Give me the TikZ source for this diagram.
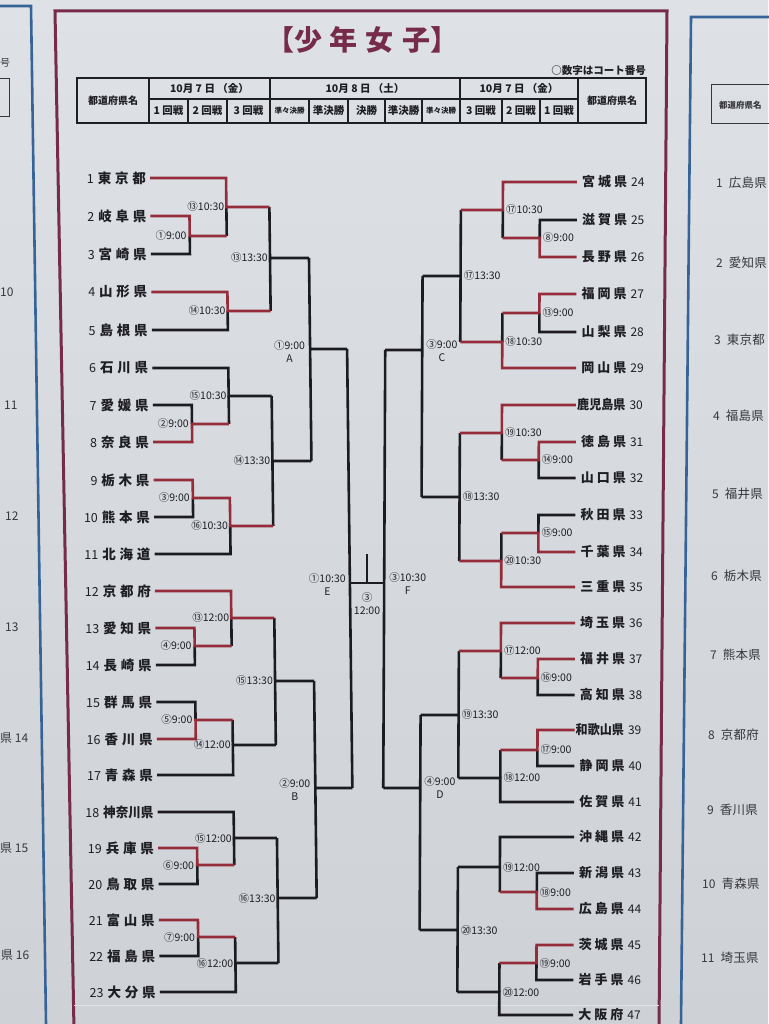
\documentclass[tikz,border=0pt]{standalone}
\usepackage{fontspec}
\setmainfont{Noto Sans CJK JP}
\usetikzlibrary{calc}
\definecolor{bgtop}{RGB}{222,226,231}
\definecolor{bgbot}{RGB}{206,210,215}
\definecolor{redl}{RGB}{148,44,58}
\definecolor{blk}{RGB}{28,28,32}
\definecolor{maroon}{RGB}{118,44,72}
\definecolor{panelblue}{RGB}{55,100,150}
\definecolor{txt}{RGB}{30,30,35}
\definecolor{txtb}{RGB}{55,55,60}
\definecolor{edge}{RGB}{222,225,229}
\newcommand\tfont{\fontsize{10.5}{13}\selectfont}
\newcommand\tnm[3]{\makebox[48pt][s]{#1\hfill#2\hfill#3}}
\newcommand\tnq[1]{\scalebox{0.93}[1]{#1}}
\newcommand\tnr[3]{\makebox[45pt][s]{#1\hfill#2\hfill#3}}
\newcommand\tnp[3]{\makebox[38pt][s]{#1\hfill#2\hfill#3}}
\newcommand\LT[2]{{\fontsize{12.5}{13}\selectfont #1}\hspace{4pt}{\fontsize{13.5}{14}\selectfont\bfseries #2}}
\newcommand\RT[2]{{\fontsize{13}{14}\selectfont\bfseries #1}\hspace{4pt}{\fontsize{12}{13}\selectfont #2}}
\newcommand\PT[2]{{\fontsize{12}{13}\selectfont #1}\hspace{6pt}{\fontsize{12.5}{13}\selectfont #2}}
\begin{document}
\begin{tikzpicture}[x=1pt,y=-1pt,
  bk/.style={draw=blk,line width=2.6pt},
  rd/.style={draw=redl,line width=2.6pt},
  tml/.style={anchor=east,inner sep=0pt,text=txt},
  tmr/.style={anchor=west,inner sep=0pt,text=txt},
  lbl/.style={anchor=east,inner sep=0pt,text=txt,font=\tfont},
  lbr/.style={anchor=west,inner sep=0pt,text=txt,font=\tfont},
  qlab/.style={inner sep=0pt,text=txt,font=\tfont,align=center},
  tbl/.style={draw=txt,line width=1.1pt},
  htx/.style={inner sep=0pt,text=txt,font=\fontsize{10.5}{12}\selectfont\bfseries},
  side/.style={inner sep=0pt,text=txtb},
  sidel/.style={side,anchor=west,font=\fontsize{12}{13}\selectfont},
]
\useasboundingbox (0,0) rectangle (768,1024);
\shade[top color=bgtop,bottom color=bgbot] (0,0) rectangle (768,1024);

% ---- neighbouring panels (cut off) ----
\draw[panelblue,line width=2.6pt] (0,6) -- (31,6) -- (46,1024);
\draw[txtb,line width=1pt] (-20,79) rectangle (9,117);
\node[sidel,font=\fontsize{10}{11}\selectfont] (lp0) at (0,63) {号};
\node[sidel] (lp10) at (0,292) {10};
\node[sidel] (lp11) at (4,405) {11};
\node[sidel] (lp12) at (5,516) {12};
\node[sidel] (lp13) at (5,627) {13};
\node[sidel] (lp14) at (0,738) {県 14};
\node[sidel] (lp15) at (0,848) {県 15};
\node[sidel] (lp16) at (1,955) {県 16};

\draw[panelblue,line width=2.6pt] (781,17) -- (691,17) -- (681,1024);
\draw[txtb,line width=1pt] (711,85) rectangle (790,124);
\node[side,anchor=west,font=\fontsize{8.5}{9}\selectfont\bfseries] (rph) at (719,105) {都道府県名};
\node[side,anchor=west] (rp1) at (716,183) {\PT{1}{\tnp{広}{島}{県}}};
\node[side,anchor=west] (rp2) at (716,263) {\PT{2}{\tnp{愛}{知}{県}}};
\node[side,anchor=west] (rp3) at (714,340) {\PT{3}{\tnp{東}{京}{都}}};
\node[side,anchor=west] (rp4) at (713,416) {\PT{4}{\tnp{福}{島}{県}}};
\node[side,anchor=west] (rp5) at (712,494) {\PT{5}{\tnp{福}{井}{県}}};
\node[side,anchor=west] (rp6) at (711,576) {\PT{6}{\tnp{栃}{木}{県}}};
\node[side,anchor=west] (rp7) at (710,655) {\PT{7}{\tnp{熊}{本}{県}}};
\node[side,anchor=west] (rp8) at (708,735) {\PT{8}{\tnp{京}{都}{府}}};
\node[side,anchor=west] (rp9) at (707,810) {\PT{9}{\tnp{香}{川}{県}}};
\node[side,anchor=west] (rp10) at (702,884) {\PT{10}{\tnp{青}{森}{県}}};
\node[side,anchor=west] (rp11) at (701,958) {\PT{11}{\tnp{埼}{玉}{県}}};

% ---- main panel frame ----
\draw[maroon,line width=3pt] (74,1030) -- (55,11) -- (667,11) -- (659,1030);

% ---- title & header ----
\node[inner sep=0pt,text=maroon,font=\fontsize{28}{30}\selectfont\bfseries] (title) at (362,40) {【少\hspace{8pt}年\hspace{8pt}女\hspace{8pt}子】};
\node[htx,anchor=east] (note) at (646,71) {○数字はコート番号};
\draw[tbl] (77,78) rectangle (646,123);
\foreach \xx in {149,270,460,578} \draw[tbl] (\xx,78) -- (\xx,123);
\draw[tbl] (149,99) -- (578,99);
\foreach \xx in {188,227,309,348,385,422,502,540} \draw[tbl] (\xx,99) -- (\xx,123);
\node[htx,font=\fontsize{10}{11}\selectfont\bfseries] (h1) at (113,101) {都道府県名};
\node[htx,font=\fontsize{10}{11}\selectfont\bfseries] (h2) at (612,101) {都道府県名};
\node[htx] (d1) at (209.5,89) {10月 7 日 （金）};
\node[htx] (d2) at (365,89) {10月 8 日 （土）};
\node[htx] (d3) at (519,89) {10月 7 日 （金）};
\node[htx] (c1) at (168.5,111) {1 回戦};
\node[htx] (c2) at (207.5,111) {2 回戦};
\node[htx] (c3) at (248.5,111) {3 回戦};
\node[htx,font=\fontsize{7.5}{8}\selectfont\bfseries] (c4) at (289.5,111) {準々決勝};
\node[htx] (c5) at (328.5,111) {準決勝};
\node[htx] (c6) at (366.5,111) {決勝};
\node[htx] (c7) at (403.5,111) {準決勝};
\node[htx,font=\fontsize{7.5}{8}\selectfont\bfseries] (c8) at (441,111) {準々決勝};
\node[htx] (c9) at (481,111) {3 回戦};
\node[htx] (c10) at (521,111) {2 回戦};
\node[htx] (c11) at (559,111) {1 回戦};

% faint board edge
\draw[edge,line width=0.8pt] (74,1005) -- (659,1005);

% ================= LEFT HALF =================
\begin{scope}[xshift=-2.1pt,xslant=-0.012]
\def\cZ{150}\def\cA{189}\def\cB{226}\def\cC{269}\def\cQ{308}\def\cS{345}
\node[tml] (tl1) at ({\cZ-4},178) {\LT{1}{\tnm{東}{京}{都}}};
\node[tml] (tl2) at ({\cZ-4},216) {\LT{2}{\tnm{岐}{阜}{県}}};
\node[tml] (tl3) at ({\cZ-4},254) {\LT{3}{\tnm{宮}{崎}{県}}};
\node[tml] (tl4) at ({\cZ-4},292) {\LT{4}{\tnm{山}{形}{県}}};
\node[tml] (tl5) at ({\cZ-4},330) {\LT{5}{\tnm{島}{根}{県}}};
\node[tml] (tl6) at ({\cZ-4},368) {\LT{6}{\tnm{石}{川}{県}}};
\node[tml] (tl7) at ({\cZ-4},405) {\LT{7}{\tnm{愛}{媛}{県}}};
\node[tml] (tl8) at ({\cZ-4},442) {\LT{8}{\tnm{奈}{良}{県}}};
\node[tml] (tl9) at ({\cZ-4},480) {\LT{9}{\tnm{栃}{木}{県}}};
\node[tml] (tl10) at ({\cZ-4},517) {\LT{10}{\tnm{熊}{本}{県}}};
\node[tml] (tl11) at ({\cZ-4},554) {\LT{11}{\tnm{北}{海}{道}}};
\node[tml] (tl12) at ({\cZ-4},591) {\LT{12}{\tnm{京}{都}{府}}};
\node[tml] (tl13) at ({\cZ-4},628) {\LT{13}{\tnm{愛}{知}{県}}};
\node[tml] (tl14) at ({\cZ-4},665) {\LT{14}{\tnm{長}{崎}{県}}};
\node[tml] (tl15) at ({\cZ-4},702) {\LT{15}{\tnm{群}{馬}{県}}};
\node[tml] (tl16) at ({\cZ-4},739) {\LT{16}{\tnm{香}{川}{県}}};
\node[tml] (tl17) at ({\cZ-4},775) {\LT{17}{\tnm{青}{森}{県}}};
\node[tml] (tl18) at ({\cZ-4},812) {\LT{18}{\tnq{神奈川県}}};
\node[tml] (tl19) at ({\cZ-4},848) {\LT{19}{\tnm{兵}{庫}{県}}};
\node[tml] (tl20) at ({\cZ-4},884) {\LT{20}{\tnm{鳥}{取}{県}}};
\node[tml] (tl21) at ({\cZ-4},920) {\LT{21}{\tnm{富}{山}{県}}};
\node[tml] (tl22) at ({\cZ-4},956) {\LT{22}{\tnm{福}{島}{県}}};
\node[tml] (tl23) at ({\cZ-4},992) {\LT{23}{\tnm{大}{分}{県}}};
% black lines
\draw[bk] (tl3.east) ++(4,0) -| (\cA,236);
\draw[bk] (\cB,207) -- (\cB,236);
\draw[bk] (tl5.east) ++(4,0) -| (\cB,311);
\draw[bk] (\cC,207) -- (\cC,311) (\cC,258) -- (\cQ,258);
\draw[bk] (tl6.east) ++(4,0) -| (\cB,396) -- (\cC,396);
\draw[bk] (tl7.east) ++(4,0) -| (\cA,424);
\draw[bk] (\cB,396) -- (\cB,424);
\draw[bk] (tl10.east) ++(4,0) -| (\cA,498);
\draw[bk] (tl11.east) ++(4,0) -| (\cB,526);
\draw[bk] (\cC,396) -- (\cC,526) (\cC,461) -- (\cQ,461);
\draw[bk] (\cQ,258) -- (\cQ,461) (\cQ,349) -- (\cS,349);
\draw[bk] (tl14.east) ++(4,0) -| (\cA,646);
\draw[bk] (\cB,618) -- (\cB,646);
\draw[bk] (tl15.east) ++(4,0) -| (\cA,720);
\draw[bk] (tl17.east) ++(4,0) -| (\cB,745) -- (\cC,745);
\draw[bk] (\cB,720) -- (\cB,745);
\draw[bk] (\cC,618) -- (\cC,745) (\cC,681) -- (\cQ,681);
\draw[bk] (tl18.east) ++(4,0) -| (\cB,838) -- (\cC,838);
\draw[bk] (tl20.east) ++(4,0) -| (\cA,865);
\draw[bk] (\cB,838) -- (\cB,865);
\draw[bk] (tl22.east) ++(4,0) -| (\cA,937);
\draw[bk] (tl23.east) ++(4,0) -| (\cB,963) -- (\cC,963);
\draw[bk] (\cB,937) -- (\cB,963);
\draw[bk] (\cC,838) -- (\cC,963) (\cC,898) -- (\cQ,898);
\draw[bk] (\cQ,681) -- (\cQ,898) (\cQ,788) -- (\cS,788);
\draw[bk] (\cS,349) -- (\cS,788);
\coordinate (semiE) at (\cS,583);
% red lines
\draw[rd] (tl2.east) ++(4,0) -| (\cA,236) -- (\cB,236);
\draw[rd] (tl1.east) ++(4,0) -| (\cB,207) -- (\cC,207);
\draw[rd] (tl4.east) ++(4,0) -| (\cB,311) -- (\cC,311);
\draw[rd] (tl8.east) ++(4,0) -| (\cA,424) -- (\cB,424);
\draw[rd] (tl9.east) ++(4,0) -| (\cA,498) -- (\cB,498) -- (\cB,526) -- (\cC,526);
\draw[rd] (tl12.east) ++(4,0) -| (\cB,618) -- (\cC,618);
\draw[rd] (tl13.east) ++(4,0) -| (\cA,646) -- (\cB,646);
\draw[rd] (tl16.east) ++(4,0) -| (\cA,720) -- (\cB,720);
\draw[rd] (tl19.east) ++(4,0) -| (\cA,865) -- (\cB,865);
\draw[rd] (tl21.east) ++(4,0) -| (\cA,937) -- (\cB,937);
% labels
\node[lbl] (ml1) at ({\cA-3},236) {①9:00};
\node[lbl] (ml2) at ({\cB-2},207) {⑬10:30};
\node[lbl] (ml3) at ({\cB-2},311) {⑭10:30};
\node[lbl] (ml4) at ({\cC-2},258) {⑬13:30};
\node[lbl] (ml5) at ({\cB-2},396) {⑮10:30};
\node[lbl] (ml6) at ({\cA-3},424) {②9:00};
\node[lbl] (ml7) at ({\cA-3},498) {③9:00};
\node[lbl] (ml8) at ({\cB-2},526) {⑯10:30};
\node[lbl] (ml9) at ({\cC-2},461) {⑭13:30};
\node[qlab,anchor=east] (qa) at ({\cQ-5},352) {①9:00\\A};
\node[lbl] (ml10) at ({\cB-2},618) {⑬12:00};
\node[lbl] (ml11) at ({\cA-3},646) {④9:00};
\node[lbl] (ml12) at ({\cA-3},720) {⑤9:00};
\node[lbl] (ml13) at ({\cB-2},745) {⑭12:00};
\node[lbl] (ml14) at ({\cC-2},681) {⑮13:30};
\node[lbl] (ml15) at ({\cB-2},838) {⑮12:00};
\node[lbl] (ml16) at ({\cA-3},865) {⑥9:00};
\node[lbl] (ml17) at ({\cA-3},937) {⑦9:00};
\node[lbl] (ml18) at ({\cB-2},963) {⑯12:00};
\node[lbl] (ml19) at ({\cC-2},898) {⑯13:30};
\node[qlab,anchor=east] (qb) at ({\cQ-5},790) {②9:00\\B};
\node[qlab,anchor=east] (se) at ({\cS-4},585) {①10:30\\E};
\end{scope}

% ================= RIGHT HALF =================
\begin{scope}[xshift=0.8pt,xslant=0.0045]
\def\cZ{577}\def\cA{540}\def\cB{503}\def\cC{461}\def\cQ{423}\def\cS{386}
\node[tmr] (tr24) at ({\cZ+5},182) {\RT{\tnr{宮}{城}{県}}{24}};
\node[tmr] (tr25) at ({\cZ+5},220) {\RT{\tnr{滋}{賀}{県}}{25}};
\node[tmr] (tr26) at ({\cZ+5},257) {\RT{\tnr{長}{野}{県}}{26}};
\node[tmr] (tr27) at ({\cZ+5},294) {\RT{\tnr{福}{岡}{県}}{27}};
\node[tmr] (tr28) at ({\cZ+5},332) {\RT{\tnr{山}{梨}{県}}{28}};
\node[tmr] (tr29) at ({\cZ+5},368) {\RT{\tnr{岡}{山}{県}}{29}};
\node[tmr] (tr30) at ({\cZ+1},405) {\RT{\tnq{鹿児島県}}{30}};
\node[tmr] (tr31) at ({\cZ+5},442) {\RT{\tnr{徳}{島}{県}}{31}};
\node[tmr] (tr32) at ({\cZ+5},478) {\RT{\tnr{山}{口}{県}}{32}};
\node[tmr] (tr33) at ({\cZ+5},515) {\RT{\tnr{秋}{田}{県}}{33}};
\node[tmr] (tr34) at ({\cZ+5},552) {\RT{\tnr{千}{葉}{県}}{34}};
\node[tmr] (tr35) at ({\cZ+5},587) {\RT{\tnr{三}{重}{県}}{35}};
\node[tmr] (tr36) at ({\cZ+5},623) {\RT{\tnr{埼}{玉}{県}}{36}};
\node[tmr] (tr37) at ({\cZ+5},659) {\RT{\tnr{福}{井}{県}}{37}};
\node[tmr] (tr38) at ({\cZ+5},695) {\RT{\tnr{高}{知}{県}}{38}};
\node[tmr] (tr39) at ({\cZ+1},730) {\RT{\tnq{和歌山県}}{39}};
\node[tmr] (tr40) at ({\cZ+5},766) {\RT{\tnr{静}{岡}{県}}{40}};
\node[tmr] (tr41) at ({\cZ+5},802) {\RT{\tnr{佐}{賀}{県}}{41}};
\node[tmr] (tr42) at ({\cZ+5},837) {\RT{\tnr{沖}{縄}{県}}{42}};
\node[tmr] (tr43) at ({\cZ+5},873) {\RT{\tnr{新}{潟}{県}}{43}};
\node[tmr] (tr44) at ({\cZ+5},909) {\RT{\tnr{広}{島}{県}}{44}};
\node[tmr] (tr45) at ({\cZ+5},945) {\RT{\tnr{茨}{城}{県}}{45}};
\node[tmr] (tr46) at ({\cZ+5},980) {\RT{\tnr{岩}{手}{県}}{46}};
\node[tmr] (tr47) at ({\cZ+5},1015) {\RT{\tnr{大}{阪}{府}}{47}};
% black lines
\draw[bk] (tr25.west) ++(-5,0) -| (\cA,238);
\draw[bk] (\cB,210) -- (\cB,238);
\draw[bk] (tr28.west) ++(-5,0) -| (\cA,313);
\draw[bk] (\cB,313) -- (\cB,342);
\draw[bk] (\cC,210) -- (\cC,342) (\cC,276) -- (\cQ,276);
\draw[bk] (tr32.west) ++(-5,0) -| (\cA,460);
\draw[bk] (\cB,433) -- (\cB,460);
\draw[bk] (tr33.west) ++(-5,0) -| (\cA,533);
\draw[bk] (\cB,533) -- (\cB,561);
\draw[bk] (\cC,433) -- (\cC,561) (\cC,497) -- (\cQ,497);
\draw[bk] (\cQ,276) -- (\cQ,497) (\cQ,350) -- (\cS,350);
\draw[bk] (tr38.west) ++(-5,0) -| (\cA,678);
\draw[bk] (\cB,651) -- (\cB,678);
\draw[bk] (tr40.west) ++(-5,0) -| (\cA,750);
\draw[bk] (tr41.west) ++(-5,0) -| (\cB,778) -- (\cC,778);
\draw[bk] (\cB,750) -- (\cB,778);
\draw[bk] (\cC,651) -- (\cC,778) (\cC,715) -- (\cQ,715);
\draw[bk] (tr42.west) ++(-5,0) -| (\cB,867) -- (\cC,867);
\draw[bk] (tr43.west) ++(-5,0) -| (\cA,892);
\draw[bk] (\cB,867) -- (\cB,892);
\draw[bk] (tr46.west) ++(-5,0) -| (\cA,963);
\draw[bk] (tr47.west) ++(-5,0) -| (\cB,992) -- (\cC,992);
\draw[bk] (\cB,963) -- (\cB,992);
\draw[bk] (\cC,867) -- (\cC,992) (\cC,930) -- (\cQ,930);
\draw[bk] (\cQ,715) -- (\cQ,930) (\cQ,788) -- (\cS,788);
\draw[bk] (\cS,350) -- (\cS,788);
\coordinate (semiF) at (\cS,583);
% red lines
\draw[rd] (tr24.west) ++(-5,0) -| (\cB,210) -- (\cC,210);
\draw[rd] (tr26.west) ++(-5,0) -| (\cA,238) -- (\cB,238);
\draw[rd] (tr27.west) ++(-5,0) -| (\cA,313) -- (\cB,313);
\draw[rd] (tr29.west) ++(-5,0) -| (\cB,342) -- (\cC,342);
\draw[rd] (tr30.west) ++(-1,0) -| (\cB,433) -- (\cC,433);
\draw[rd] (tr31.west) ++(-5,0) -| (\cA,460) -- (\cB,460);
\draw[rd] (tr34.west) ++(-5,0) -| (\cA,533) -- (\cB,533);
\draw[rd] (tr35.west) ++(-5,0) -| (\cB,561) -- (\cC,561);
\draw[rd] (tr36.west) ++(-5,0) -| (\cB,651) -- (\cC,651);
\draw[rd] (tr37.west) ++(-5,0) -| (\cA,678) -- (\cB,678);
\draw[rd] (tr39.west) ++(-1,0) -| (\cA,750) -- (\cB,750);
\draw[rd] (tr44.west) ++(-5,0) -| (\cA,892) -- (\cB,892);
\draw[rd] (tr45.west) ++(-5,0) -| (\cA,963) -- (\cB,963);
% labels
\node[lbr] (mr1) at ({\cA+3},238) {⑧9:00};
\node[lbr] (mr2) at ({\cB+3},210) {⑰10:30};
\node[lbr] (mr3) at ({\cA+3},313) {⑬9:00};
\node[lbr] (mr4) at ({\cB+3},342) {⑱10:30};
\node[lbr] (mr5) at ({\cC+3},276) {⑰13:30};
\node[qlab,anchor=west] (qc) at ({\cQ+4},351) {③9:00\\C};
\node[lbr] (mr6) at ({\cB+3},433) {⑲10:30};
\node[lbr] (mr7) at ({\cA+3},460) {⑭9:00};
\node[lbr] (mr8) at ({\cA+3},533) {⑮9:00};
\node[lbr] (mr9) at ({\cB+3},561) {⑳10:30};
\node[lbr] (mr10) at ({\cC+3},497) {⑱13:30};
\node[qlab,anchor=west] (sf) at ({\cS+5},584) {③10:30\\F};
\node[lbr] (mr11) at ({\cB+3},651) {⑰12:00};
\node[lbr] (mr12) at ({\cA+3},678) {⑯9:00};
\node[lbr] (mr13) at ({\cA+3},750) {⑰9:00};
\node[lbr] (mr14) at ({\cB+3},778) {⑱12:00};
\node[lbr] (mr15) at ({\cC+3},715) {⑲13:30};
\node[qlab,anchor=west] (qd) at ({\cQ+4},788) {④9:00\\D};
\node[lbr] (mr16) at ({\cB+3},867) {⑲12:00};
\node[lbr] (mr17) at ({\cA+3},892) {⑱9:00};
\node[lbr] (mr18) at ({\cA+3},963) {⑲9:00};
\node[lbr] (mr19) at ({\cB+3},992) {⑳12:00};
\node[lbr] (mr20) at ({\cC+3},930) {⑳13:30};
\end{scope}

% ================= FINAL =================
\draw[bk] (semiE) -- (semiF);
\coordinate (fmid) at ($(semiE)!0.5!(semiF)$);
\draw[bk] (fmid) -- ++(0,-29);
\node[qlab,anchor=north] (fin) at ($(fmid)+(0,9)$) {③\\12:00};
\end{tikzpicture}
\end{document}
